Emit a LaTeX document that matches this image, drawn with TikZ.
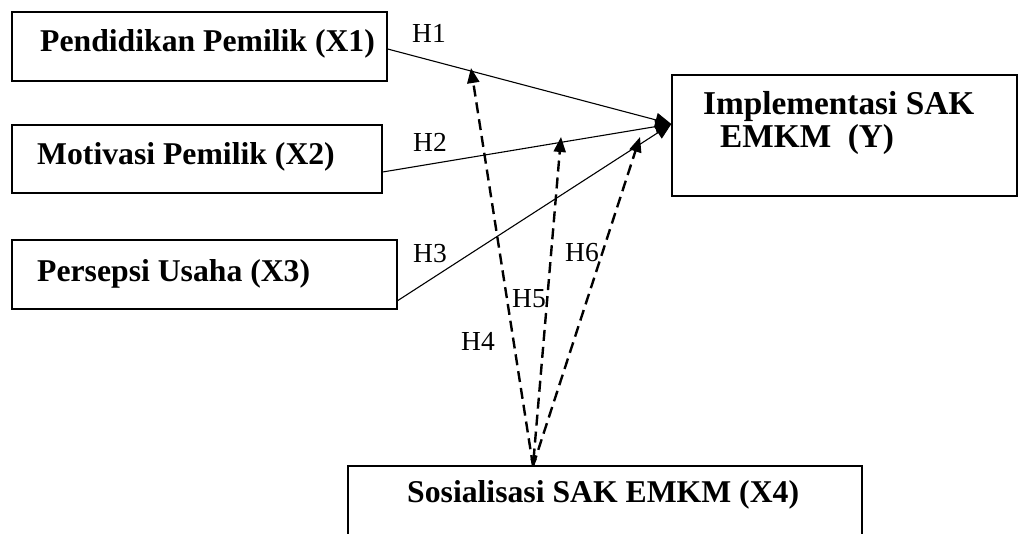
\documentclass[tikz,border=0pt]{standalone}
\usepackage{fontspec}
\setmainfont{Liberation Serif}
\usetikzlibrary{arrows.meta}
\begin{document}
\begin{tikzpicture}[x=1pt,y=-1pt,
  box/.style={draw, line width=1.3pt, inner sep=0pt},
  lbl/.style={anchor=base west, inner sep=0pt, font=\fontsize{31.7}{38}\selectfont\bfseries},
  lbly/.style={anchor=base west, inner sep=0pt, font=\fontsize{33.3}{38}\selectfont\bfseries},
  hl/.style={anchor=base west, inner sep=0pt, font=\fontsize{27.5}{32}\selectfont},
  solidarrow/.style={line width=1.1pt, -{Triangle[length=16pt,width=14pt]}},
  dasharrow/.style={line width=2.4pt, dash pattern=on 11pt off 6pt, -{Triangle[length=15pt,width=12pt]}}]
\useasboundingbox (0,0) rectangle (1018,534);
\clip (0,0) rectangle (1018,534);
% boxes
\node[box, minimum width=375pt, minimum height=69pt] (x1) at (199.5,46.5) {};
\node[box, minimum width=370pt, minimum height=68pt] (x2) at (197,159) {};
\node[box, minimum width=385pt, minimum height=69pt] (x3) at (204.5,274.5) {};
\node[box, minimum width=345pt, minimum height=121pt] (y) at (844.5,135.5) {};
\node[box, minimum width=514pt, minimum height=90pt] (x4) at (605,511) {};
% texts
\node[lbl] (t1) at (40,52) {Pendidikan Pemilik (X1)};
\node[lbl] (t2) at (37,165) {Motivasi Pemilik (X2)};
\node[lbl] (t3) at (37,282) {Persepsi Usaha (X3)};
\node[lbly] (ty1) at (703,115) {Implementasi SAK};
\node[lbly] (ty2) at (720,148) {EMKM\ \ (Y)};
\node[lbl] (t4) at (407,503) {Sosialisasi SAK EMKM (X4)};
% hypothesis labels
\node[hl] (h1) at (412,43) {H1};
\node[hl] (h2) at (413,152) {H2};
\node[hl] (h3) at (413,263) {H3};
\node[hl] (h4) at (461,351) {H4};
\node[hl] (h5) at (512,308) {H5};
\node[hl] (h6) at (565,262) {H6};
% points
\coordinate (conv) at ([yshift=11.5pt]y.west);
\coordinate (src) at (533,466);
\coordinate (e4) at (471,68);
\coordinate (e5) at (561,137);
\coordinate (e6) at (640,137);
% solid arrows
\draw[solidarrow] ([yshift=-2.5pt]x1.east) -- (conv);
\draw[solidarrow] ([yshift=-13pt]x2.east) -- (conv);
\draw[solidarrow] ([yshift=9pt]x3.south east) -- (conv);
% dashed arrows
\draw[dasharrow] (src) -- (e4);
\draw[dasharrow, {Triangle[length=7pt,width=6pt]}-{Triangle[length=15pt,width=12pt]}] (src) -- (e5);
\draw[dasharrow] (src) -- (e6);
\end{tikzpicture}
\end{document}
